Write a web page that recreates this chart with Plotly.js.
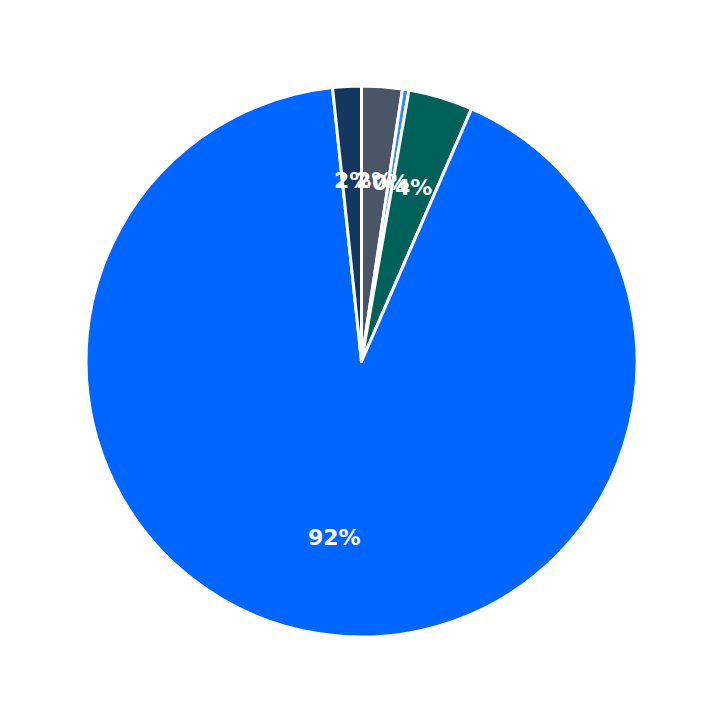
<!DOCTYPE html>
<html>
<head>
<meta charset="utf-8">
<script src="https://cdn.plot.ly/plotly-3.0.1.min.js"></script>
<style>html,body{margin:0;padding:0;background:#fff;}#chart{width:723px;height:723px;}</style>
</head>
<body>
<div id="chart"></div>
<script>
// Slice order: clockwise from 12 o'clock
var categories = ["Gray", "Light blue", "Teal", "Blue", "Navy"];
var values = [2.38, 0.38, 3.78, 91.79, 1.68];
var colors = ["#4a5565", "#2a8cff", "#00605a", "#0066ff", "#14375f"];

var total = values.reduce(function (a, b) { return a + b; }, 0);
var labelDist = 0.653;
var annotations = [];
var cum = 0;
var order = [4, 0, 1, 2, 3];
var mids = [];
for (var i = 0; i < values.length; i++) {
  var mid = (cum + values[i] / 2) / total * 2 * Math.PI;
  mids.push(mid);
  cum += values[i];
}
order.forEach(function (i) {
  var mid = mids[i];
  annotations.push({
    xref: "paper", yref: "paper",
    x: 0.5 + 0.5 * labelDist * Math.sin(mid),
    y: 0.5 + 0.5 * labelDist * Math.cos(mid),
    xanchor: "center", yanchor: "middle",
    yshift: 1.5,
    showarrow: false,
    text: Math.round(values[i] / total * 100) + "%",
    font: { family: "DejaVu Sans", size: 22, color: "#ffffff", weight: "bold" }
  });
});

var trace = {
  type: "pie",
  labels: categories,
  values: values,
  sort: false,
  direction: "clockwise",
  rotation: 0,
  textinfo: "none",
  hoverinfo: "label+percent",
  marker: { colors: colors, line: { color: "#ffffff", width: 3 } },
  showlegend: false
};

var layout = {
  width: 723, height: 723,
  margin: { l: 85.5, r: 85.5, t: 85.5, b: 85.5, pad: 0 },
  paper_bgcolor: "#ffffff",
  plot_bgcolor: "#ffffff",
  showlegend: false,
  annotations: annotations
};

Plotly.newPlot("chart", [trace], layout, { displayModeBar: false, staticPlot: true });
</script>
</body>
</html>
